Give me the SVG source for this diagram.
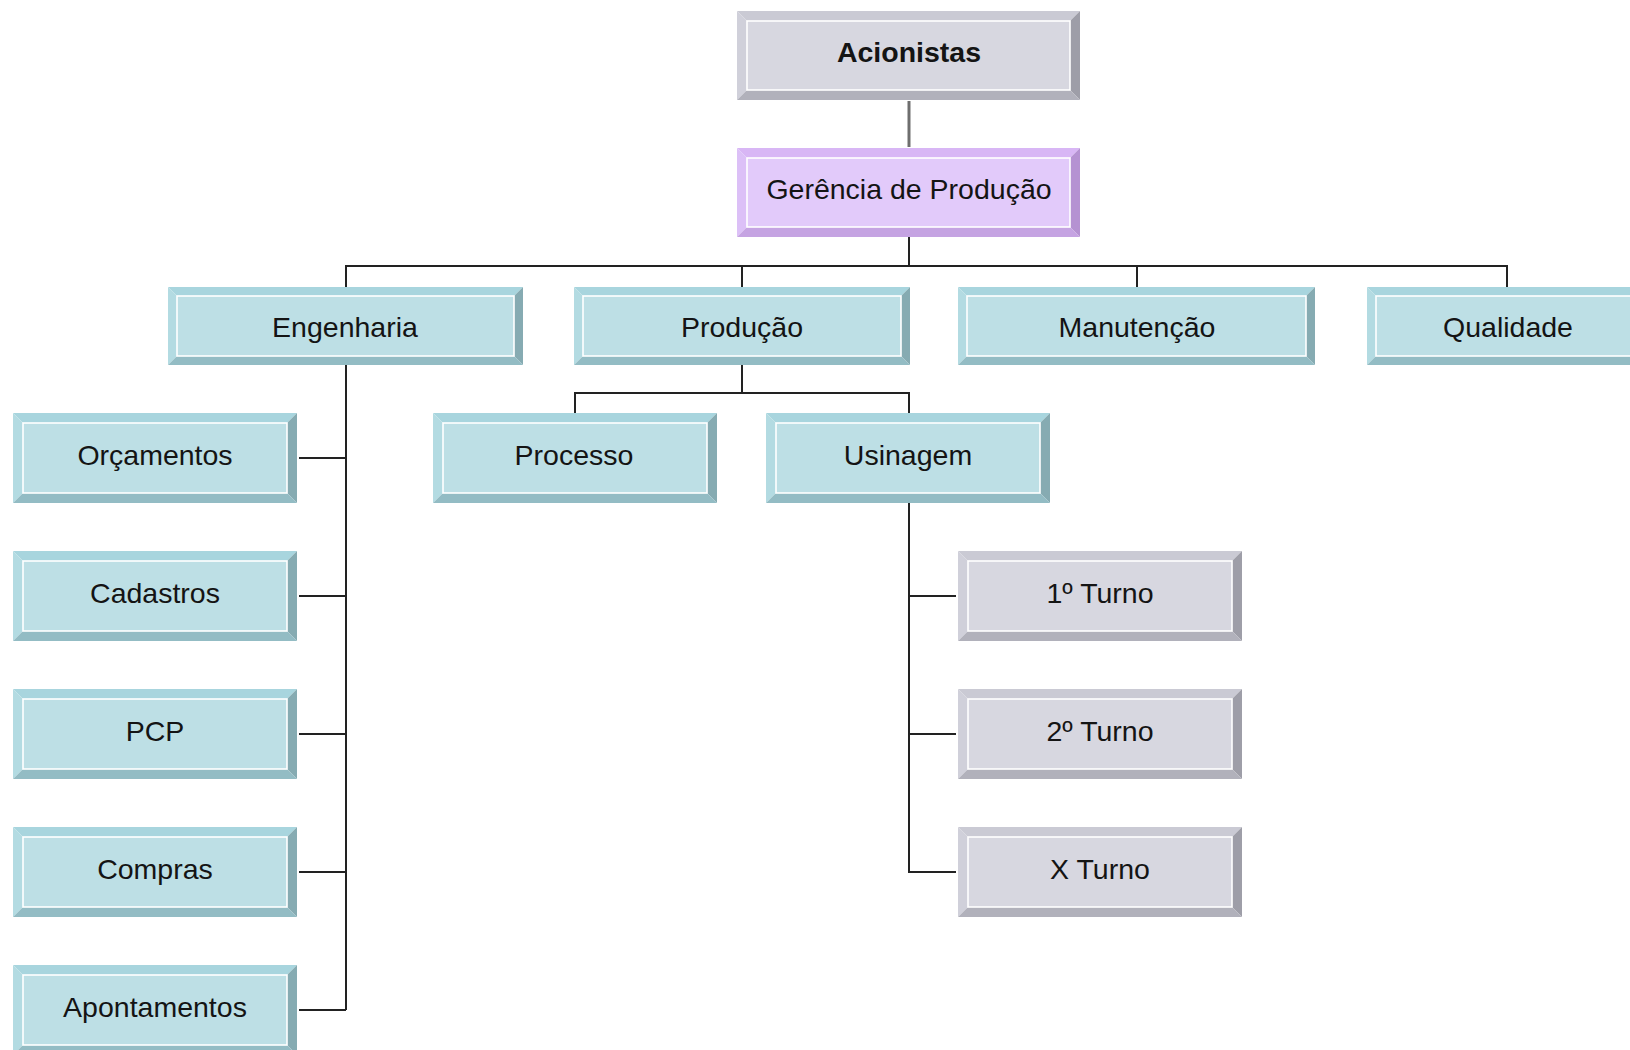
<svg xmlns="http://www.w3.org/2000/svg" width="1630" height="1050" viewBox="0 0 1630 1050">
  <style>
    .lbl { font-family: "Liberation Sans", Arial, sans-serif; font-size: 28.5px; fill: #141414; text-anchor: middle; }
    .bold { font-weight: bold; }
    .face { stroke: #ffffff; stroke-width: 1.6; }
    .wire { fill: none; stroke: #222222; stroke-width: 2; }
    .wire-grey { fill: none; stroke: #6e6e6e; stroke-width: 3; }
    /* teal theme */
    .teal .face { fill: #bddfe5; }
    .teal .t { fill: #a8d5de; }
    .teal .l { fill: #b3dbe2; }
    .teal .r { fill: #86abb2; }
    .teal .b { fill: #93bcc4; }
    /* grey theme */
    .grey .face { fill: #d7d7e0; }
    .grey .t { fill: #cacad4; }
    .grey .l { fill: #d0d0da; }
    .grey .r { fill: #9e9ea8; }
    .grey .b { fill: #b1b1bb; }
    /* violet theme */
    .violet .face { fill: #e2cafa; }
    .violet .t { fill: #d8b6f5; }
    .violet .l { fill: #dcc0f7; }
    .violet .r { fill: #b592d2; }
    .violet .b { fill: #c5a3e2; }
  </style>

  <rect width="1630" height="1050" fill="#ffffff"/>

  <!-- connectors -->
  <g id="connectors">
    <line class="wire-grey" x1="909" y1="101" x2="909" y2="147"/>
    <path class="wire" d="M909 237 V266 M346 287 V266 H1507 V287 M742 266 V287 M1137 266 V287"/>
    <!-- Engenharia branch -->
    <path class="wire" d="M346 365 V1010 M299 458 H346 M299 596 H346 M299 734 H346 M299 872 H346 M299 1010 H346"/>
    <!-- Produção branch -->
    <path class="wire" d="M742 365 V393 M575 413 V393 H909 V413"/>
    <!-- Usinagem branch -->
    <path class="wire" d="M909 503 V872 H956 M909 596 H956 M909 734 H956"/>
  </g>

  <!-- Acionistas -->
  <g id="acionistas" class="grey">
    <polygon class="t" points="737,11 1080,11 1070,21 747,21"/>
    <polygon class="l" points="737,11 747,21 747,90 737,100"/>
    <polygon class="r" points="1080,11 1070,21 1070,90 1080,100"/>
    <polygon class="b" points="737,100 1080,100 1070,90 747,90"/>
    <rect class="face" x="747" y="21" width="323" height="69"/>
    <text class="lbl bold" x="909" y="62">Acionistas</text>
  </g>

  <!-- Gerência de Produção -->
  <g id="gerencia" class="violet">
    <polygon class="t" points="737,148 1080,148 1070,158 747,158"/>
    <polygon class="l" points="737,148 747,158 747,227 737,237"/>
    <polygon class="r" points="1080,148 1070,158 1070,227 1080,237"/>
    <polygon class="b" points="737,237 1080,237 1070,227 747,227"/>
    <rect class="face" x="747" y="158" width="323" height="69"/>
    <text class="lbl" x="909" y="199">Gerência de Produção</text>
  </g>

  <!-- Engenharia -->
  <g id="engenharia" class="teal">
    <polygon class="t" points="168,287 523,287 514,296 177,296"/>
    <polygon class="l" points="168,287 177,296 177,356 168,365"/>
    <polygon class="r" points="523,287 514,296 514,356 523,365"/>
    <polygon class="b" points="168,365 523,365 514,356 177,356"/>
    <rect class="face" x="177" y="296" width="337" height="60"/>
    <text class="lbl" x="345" y="337">Engenharia</text>
  </g>

  <!-- Produção -->
  <g id="producao" class="teal">
    <polygon class="t" points="574,287 910,287 901,296 583,296"/>
    <polygon class="l" points="574,287 583,296 583,356 574,365"/>
    <polygon class="r" points="910,287 901,296 901,356 910,365"/>
    <polygon class="b" points="574,365 910,365 901,356 583,356"/>
    <rect class="face" x="583" y="296" width="318" height="60"/>
    <text class="lbl" x="742" y="337">Produção</text>
  </g>

  <!-- Manutenção -->
  <g id="manutencao" class="teal">
    <polygon class="t" points="958,287 1315,287 1306,296 967,296"/>
    <polygon class="l" points="958,287 967,296 967,356 958,365"/>
    <polygon class="r" points="1315,287 1306,296 1306,356 1315,365"/>
    <polygon class="b" points="958,365 1315,365 1306,356 967,356"/>
    <rect class="face" x="967" y="296" width="339" height="60"/>
    <text class="lbl" x="1137" y="337">Manutenção</text>
  </g>

  <!-- Qualidade -->
  <g id="qualidade" class="teal">
    <polygon class="t" points="1367,287 1647,287 1638,296 1376,296"/>
    <polygon class="l" points="1367,287 1376,296 1376,356 1367,365"/>
    <polygon class="r" points="1647,287 1638,296 1638,356 1647,365"/>
    <polygon class="b" points="1367,365 1647,365 1638,356 1376,356"/>
    <rect class="face" x="1376" y="296" width="262" height="60"/>
    <text class="lbl" x="1508" y="337">Qualidade</text>
  </g>

  <!-- Orçamentos -->
  <g id="orcamentos" class="teal">
    <polygon class="t" points="13,413 297,413 287,423 23,423"/>
    <polygon class="l" points="13,413 23,423 23,493 13,503"/>
    <polygon class="r" points="297,413 287,423 287,493 297,503"/>
    <polygon class="b" points="13,503 297,503 287,493 23,493"/>
    <rect class="face" x="23" y="423" width="264" height="70"/>
    <text class="lbl" x="155" y="465">Orçamentos</text>
  </g>

  <!-- Cadastros -->
  <g id="cadastros" class="teal">
    <polygon class="t" points="13,551 297,551 287,561 23,561"/>
    <polygon class="l" points="13,551 23,561 23,631 13,641"/>
    <polygon class="r" points="297,551 287,561 287,631 297,641"/>
    <polygon class="b" points="13,641 297,641 287,631 23,631"/>
    <rect class="face" x="23" y="561" width="264" height="70"/>
    <text class="lbl" x="155" y="603">Cadastros</text>
  </g>

  <!-- PCP -->
  <g id="pcp" class="teal">
    <polygon class="t" points="13,689 297,689 287,699 23,699"/>
    <polygon class="l" points="13,689 23,699 23,769 13,779"/>
    <polygon class="r" points="297,689 287,699 287,769 297,779"/>
    <polygon class="b" points="13,779 297,779 287,769 23,769"/>
    <rect class="face" x="23" y="699" width="264" height="70"/>
    <text class="lbl" x="155" y="741">PCP</text>
  </g>

  <!-- Compras -->
  <g id="compras" class="teal">
    <polygon class="t" points="13,827 297,827 287,837 23,837"/>
    <polygon class="l" points="13,827 23,837 23,907 13,917"/>
    <polygon class="r" points="297,827 287,837 287,907 297,917"/>
    <polygon class="b" points="13,917 297,917 287,907 23,907"/>
    <rect class="face" x="23" y="837" width="264" height="70"/>
    <text class="lbl" x="155" y="879">Compras</text>
  </g>

  <!-- Apontamentos -->
  <g id="apontamentos" class="teal">
    <polygon class="t" points="13,965 297,965 287,975 23,975"/>
    <polygon class="l" points="13,965 23,975 23,1045 13,1055"/>
    <polygon class="r" points="297,965 287,975 287,1045 297,1055"/>
    <polygon class="b" points="13,1055 297,1055 287,1045 23,1045"/>
    <rect class="face" x="23" y="975" width="264" height="70"/>
    <text class="lbl" x="155" y="1017">Apontamentos</text>
  </g>

  <!-- Processo -->
  <g id="processo" class="teal">
    <polygon class="t" points="433,413 717,413 707,423 443,423"/>
    <polygon class="l" points="433,413 443,423 443,493 433,503"/>
    <polygon class="r" points="717,413 707,423 707,493 717,503"/>
    <polygon class="b" points="433,503 717,503 707,493 443,493"/>
    <rect class="face" x="443" y="423" width="264" height="70"/>
    <text class="lbl" x="574" y="465">Processo</text>
  </g>

  <!-- Usinagem -->
  <g id="usinagem" class="teal">
    <polygon class="t" points="766,413 1050,413 1040,423 776,423"/>
    <polygon class="l" points="766,413 776,423 776,493 766,503"/>
    <polygon class="r" points="1050,413 1040,423 1040,493 1050,503"/>
    <polygon class="b" points="766,503 1050,503 1040,493 776,493"/>
    <rect class="face" x="776" y="423" width="264" height="70"/>
    <text class="lbl" x="908" y="465">Usinagem</text>
  </g>

  <!-- 1º Turno -->
  <g id="turno1" class="grey">
    <polygon class="t" points="958,551 1242,551 1232,561 968,561"/>
    <polygon class="l" points="958,551 968,561 968,631 958,641"/>
    <polygon class="r" points="1242,551 1232,561 1232,631 1242,641"/>
    <polygon class="b" points="958,641 1242,641 1232,631 968,631"/>
    <rect class="face" x="968" y="561" width="264" height="70"/>
    <text class="lbl" x="1100" y="603">1º Turno</text>
  </g>

  <!-- 2º Turno -->
  <g id="turno2" class="grey">
    <polygon class="t" points="958,689 1242,689 1232,699 968,699"/>
    <polygon class="l" points="958,689 968,699 968,769 958,779"/>
    <polygon class="r" points="1242,689 1232,699 1232,769 1242,779"/>
    <polygon class="b" points="958,779 1242,779 1232,769 968,769"/>
    <rect class="face" x="968" y="699" width="264" height="70"/>
    <text class="lbl" x="1100" y="741">2º Turno</text>
  </g>

  <!-- X Turno -->
  <g id="turnox" class="grey">
    <polygon class="t" points="958,827 1242,827 1232,837 968,837"/>
    <polygon class="l" points="958,827 968,837 968,907 958,917"/>
    <polygon class="r" points="1242,827 1232,837 1232,907 1242,917"/>
    <polygon class="b" points="958,917 1242,917 1232,907 968,907"/>
    <rect class="face" x="968" y="837" width="264" height="70"/>
    <text class="lbl" x="1100" y="879">X Turno</text>
  </g>
</svg>
